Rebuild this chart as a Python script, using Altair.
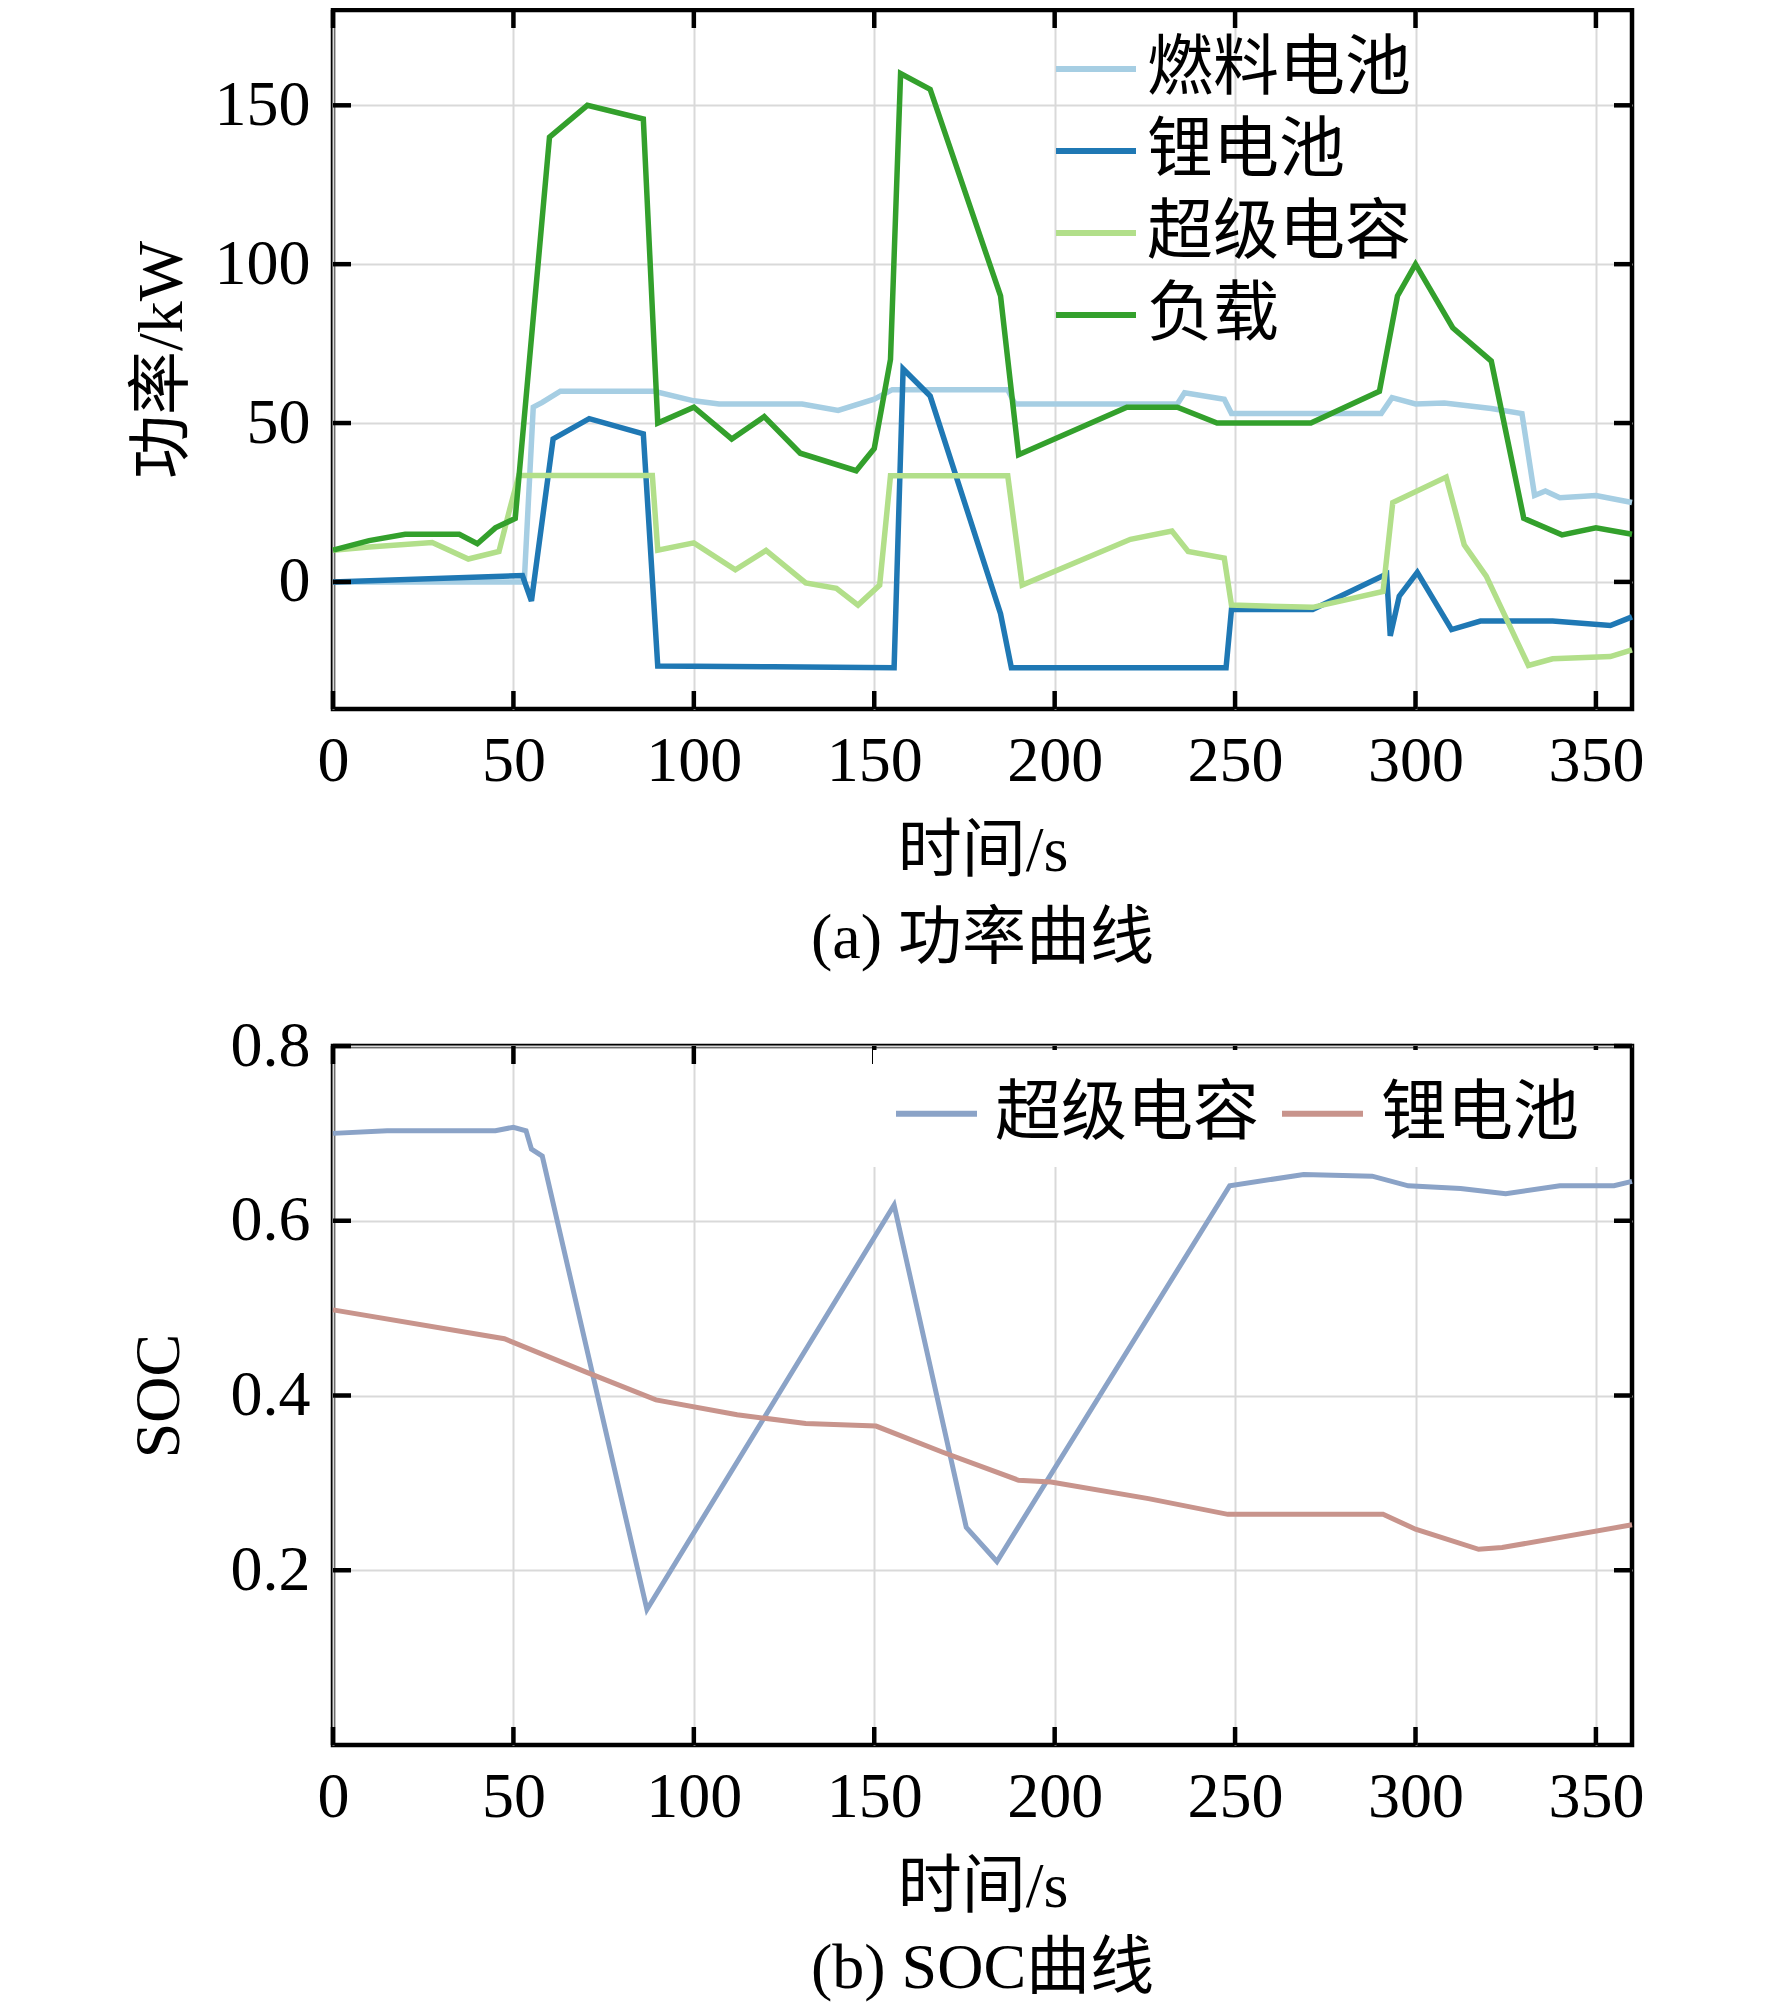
import altair as alt
import pandas as pd

FONT = "Liberation Serif, Noto Sans CJK SC"

# ---------------- data: (a) power curves ----------------
power_series = ["燃料电池", "锂电池", "超级电容", "负载"]
power_colors = ["#a6cee3", "#1f78b4", "#b2df8a", "#33a02c"]

fc_t = [0, 53, 55.5, 58, 63, 89, 100, 107, 130, 140, 150, 155, 187, 189, 234, 236, 247, 249,
        290.5, 293.5, 300, 308, 321, 329.5, 333, 336, 340, 350, 360]
fc_v = [0, 0, 55, 56.5, 60, 60, 57, 56, 56, 54, 57.5, 60.5, 60.5, 56, 56, 59.5, 57.5, 53,
        53, 58, 56, 56.3, 54.6, 53, 27.2, 28.6, 26.5, 27.2, 25]

li_t = [0, 52.5, 55, 61, 71, 86, 90, 122, 155.5, 158, 165.5, 185, 188, 247.5, 249, 271.5,
        292, 293, 295.5, 300.5, 310, 318, 338, 354, 360]
li_v = [0, 2, -6, 45, 51.4, 46.6, -26.5, -26.7, -27, 67, 58.5, -10, -27, -27, -8.7, -8.7,
        2.5, -17, -4.5, 3, -15, -12.3, -12.3, -13.7, -11]

sc_t = [0, 10, 27.5, 37.5, 46, 49, 51.5, 88.5, 90, 100, 111.5, 120, 131, 139.5, 145.5, 151.5,
        154.5, 187, 191, 221, 232.5, 237, 247, 249, 271.5, 291, 293.7, 308.5, 313.5, 319.6,
        331.3, 338, 354, 360]
sc_v = [10, 11, 12.4, 7.2, 9.6, 23, 33.5, 33.5, 10, 12.3, 3.8, 9.9, -0.3, -2, -7.3, -1,
        33.4, 33.4, -1, 13.4, 16, 9.6, 7.5, -7.3, -8, -3, 25, 33, 11.7, 1.8,
        -26.3, -24.2, -23.5, -21.4]

load_t = [0, 10, 20, 35, 40, 45, 50.5, 60, 70.5, 86, 90, 100, 110.5, 119.5, 129.5, 145, 150,
          154.5, 157.3, 165.5, 185, 190, 220, 234, 245, 271, 290, 295, 300, 310.3, 321, 330,
          340.6, 350, 360]
load_v = [10, 13, 15, 15, 12, 17, 20, 140, 150, 145.7, 50, 55, 45, 52, 40.5, 35, 42,
          70, 160, 155, 90, 40, 55, 55, 50, 50, 60, 90, 100, 80, 69.5, 20,
          14.8, 17, 15]

# ---------------- data: (b) SOC curves ----------------
soc_series = ["超级电容", "锂电池"]
soc_colors = ["#8ba3c7", "#c8948c"]

soc_sc_t = [0, 15, 45, 50, 53.5, 55, 58, 87, 155.5, 175.5, 184, 248.5, 269, 288, 298, 312.5,
            325, 340, 355, 360]
soc_sc_v = [0.700, 0.703, 0.703, 0.707, 0.703, 0.682, 0.674, 0.155, 0.618, 0.249, 0.210,
            0.640, 0.653, 0.651, 0.640, 0.637, 0.631, 0.640, 0.640, 0.645]

soc_li_t = [0, 47.5, 70, 89.5, 112, 131, 150.5, 169, 190, 199, 226, 248, 291, 300, 317.5,
            324, 360]
soc_li_v = [0.498, 0.465, 0.427, 0.395, 0.378, 0.368, 0.365, 0.335, 0.303, 0.301, 0.282,
            0.264, 0.264, 0.247, 0.224, 0.226, 0.252]

# ---------------- axes ----------------
x_domain = [0, 360]
x_ticks = [0, 50, 100, 150, 200, 250, 300, 350]
power_domain = [-40, 180]
power_ticks = [0, 50, 100, 150]
soc_domain = [0, 0.8]
soc_ticks = [0.2, 0.4, 0.6, 0.8]

W, H = 1299, 699
TICK = 18


def long_df(names, ts, vs):
    frames = [pd.DataFrame({"t": t, "value": v, "series": n}) for n, t, v in zip(names, ts, vs)]
    return pd.concat(frames, ignore_index=True)


power_df = long_df(power_series, [fc_t, li_t, sc_t, load_t], [fc_v, li_v, sc_v, load_v])
soc_df = long_df(soc_series, [soc_sc_t, soc_li_t], [soc_sc_v, soc_li_v])


def inner_ticks(xdom, ydom, yvals):
    xs = alt.Scale(domain=xdom, nice=False, zero=False)
    ys = alt.Scale(domain=ydom, nice=False, zero=False)
    tx = pd.DataFrame({"t": x_ticks})
    ty = pd.DataFrame({"value": yvals})
    rule = dict(color="black", strokeWidth=4.5)
    bottom = alt.Chart(tx).mark_rule(**rule).encode(
        x=alt.X("t:Q", scale=xs), y=alt.value(H - TICK), y2=alt.value(H))
    top = alt.Chart(tx).mark_rule(**rule).encode(
        x=alt.X("t:Q", scale=xs), y=alt.value(0), y2=alt.value(TICK))
    left = alt.Chart(ty).mark_rule(**rule).encode(
        y=alt.Y("value:Q", scale=ys), x=alt.value(0), x2=alt.value(TICK))
    right = alt.Chart(ty).mark_rule(**rule).encode(
        y=alt.Y("value:Q", scale=ys), x=alt.value(W - TICK), x2=alt.value(W))
    return [bottom, top, left, right]


def x_axis():
    return alt.Axis(values=x_ticks, title="时间/s", labelPadding=20, titlePadding=26)


power_line = alt.Chart(power_df).mark_line(strokeWidth=5.5).encode(
    x=alt.X("t:Q", scale=alt.Scale(domain=x_domain, nice=False, zero=False), axis=x_axis()),
    y=alt.Y("value:Q", scale=alt.Scale(domain=power_domain, nice=False, zero=False),
            axis=alt.Axis(values=power_ticks, title="功率/kW", labelPadding=23, titlePadding=20)),
    color=alt.Color("series:N", scale=alt.Scale(domain=power_series, range=power_colors),
                    legend=alt.Legend(title=None, orient="none", legendX=720, legendY=16,
                                      symbolType="stroke", symbolSize=6400, symbolStrokeWidth=6,
                                      labelFont=FONT, labelFontSize=66, labelColor="black",
                                      labelOffset=8, labelLimit=1000, rowPadding=6, padding=0)),
)

power_chart = alt.layer(power_line, *inner_ticks(x_domain, power_domain, power_ticks)).properties(
    width=W, height=H,
    title=alt.TitleParams("(a) 功率曲线", orient="bottom", frame="group", anchor="middle",
                          font=FONT, fontSize=64, fontWeight="normal", color="black", offset=24),
)

soc_line = alt.Chart(soc_df).mark_line(strokeWidth=5).encode(
    x=alt.X("t:Q", scale=alt.Scale(domain=x_domain, nice=False, zero=False), axis=x_axis()),
    y=alt.Y("value:Q", scale=alt.Scale(domain=soc_domain, nice=False, zero=False),
            axis=alt.Axis(values=soc_ticks, title="SOC", format=".1f", labelPadding=23,
                          titlePadding=39)),
    color=alt.Color("series:N", scale=alt.Scale(domain=soc_series, range=soc_colors),
                    legend=alt.Legend(title=None, orient="none", direction="horizontal",
                                      legendX=540, legendY=4, fillColor="white", padding=20,
                                      symbolType="stroke", symbolSize=6561, symbolStrokeWidth=6,
                                      labelFont=FONT, labelFontSize=66, labelColor="black",
                                      labelOffset=15, labelLimit=1000, columnPadding=11)),
)

soc_chart = alt.layer(soc_line, *inner_ticks(x_domain, soc_domain, soc_ticks)).properties(
    width=W, height=H,
    title=alt.TitleParams("(b) SOC曲线", orient="bottom", frame="group", anchor="middle",
                          font=FONT, fontSize=64, fontWeight="normal", color="black", offset=18),
)

chart = alt.vconcat(power_chart, soc_chart, spacing=37).resolve_scale(
    color="independent", x="independent", y="independent"
).resolve_legend(color="independent").properties(
    padding={"left": 116, "top": -3, "right": 10, "bottom": 2}
).configure_axis(
    labelFont=FONT, labelFontSize=64, labelColor="black",
    titleFont=FONT, titleFontSize=64, titleColor="black", titleFontWeight="normal",
    grid=True, gridColor="#d9d9d9", gridWidth=2, ticks=False, tickSize=0, domain=False,
    labelFlush=False, labelOverlap=False,
).configure_view(stroke="black", strokeWidth=4.5)

chart.save("out.html", embed_options={"renderer": "svg", "actions": False})
